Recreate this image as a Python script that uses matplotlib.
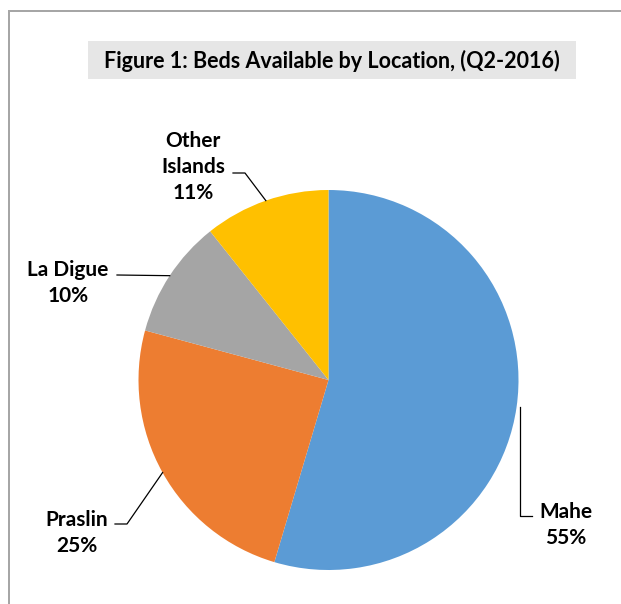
import numpy as np
import matplotlib
matplotlib.use('Agg')
import matplotlib.pyplot as plt
from matplotlib.patches import Rectangle

# data
locations = ['Mahe', 'Praslin', 'La Digue', 'Other Islands']
shares = [54.6, 24.6, 10.1, 10.7]
labels_txt = ['Mahe', 'Praslin', 'La Digue', 'Other\nIslands']
pct_txt = ['55%', '25%', '10%', '11%']
colors = ['#5B9BD5', '#ED7D31', '#A5A5A5', '#FFC000']

W, H = 621, 604
plt.rcParams['font.family'] = ['Lato', 'DejaVu Sans']

fig = plt.figure(figsize=(W / 100, H / 100), dpi=100)
ax = fig.add_axes([0, 0, 1, 1])

def Y(y):
    # pixel row (top down) -> data y
    return H - y

# pie
cx, cy, r = 328.5, Y(380), 190
wedges, _ = ax.pie(shares, colors=colors, startangle=90, counterclock=False,
                   center=(cx, cy), radius=r, wedgeprops=dict(linewidth=0))
ax.set_xlim(0, W)
ax.set_ylim(0, H)
ax.set_aspect('auto')
ax.axis('off')

# outer frame: only top and left edges show in the crop (thin filled strips)
frame_col = '#A6A6A6'
ax.add_patch(Rectangle((8.4, 0), 1.3, Y(11) + 0.65, facecolor=frame_col, edgecolor='none'))
ax.add_patch(Rectangle((8.4, Y(11) - 0.65), W, 1.3, facecolor=frame_col, edgecolor='none'))

# title box
ax.add_patch(Rectangle((88, Y(79)), 488, 38, facecolor='#E6E6E6', edgecolor='none'))
ax.text(332, Y(61), 'Figure 1: Beds Available by Location, (Q2-2016)',
        ha='center', va='center', fontsize=15.5, fontweight='bold', color='black')

# label layout: text centre and elbow points (pixel coords, y down)
label_pos = [(566, 525), (77, 533), (68, 283), (193, 167)]
elbows = [[(532, 516), (520, 516)],
          [(115, 524), (127, 524)],
          [(117, 275)],
          [(233, 173), (245, 173)]]

for w, lab, pct, (tx, ty), el in zip(wedges, labels_txt, pct_txt, label_pos, elbows):
    mid = np.deg2rad((w.theta1 + w.theta2) / 2)
    px, py = cx + r * np.cos(mid), cy + r * np.sin(mid)
    xs = [p[0] for p in el]
    ys = [Y(p[1]) for p in el]
    if lab == 'Mahe':
        # vertical drop from the slice, then short horizontal
        xs = xs + [el[1][0]]
        ys = ys + [py]
    else:
        xs = xs + [px]
        ys = ys + [py]
    ax.plot(xs, ys, color='black', lw=0.9)
    ax.text(tx, Y(ty), lab + '\n' + pct, ha='center', va='center',
            fontsize=15, fontweight='bold', color='black', linespacing=1.35)

fig.savefig('out.png', dpi=100, facecolor='white')
